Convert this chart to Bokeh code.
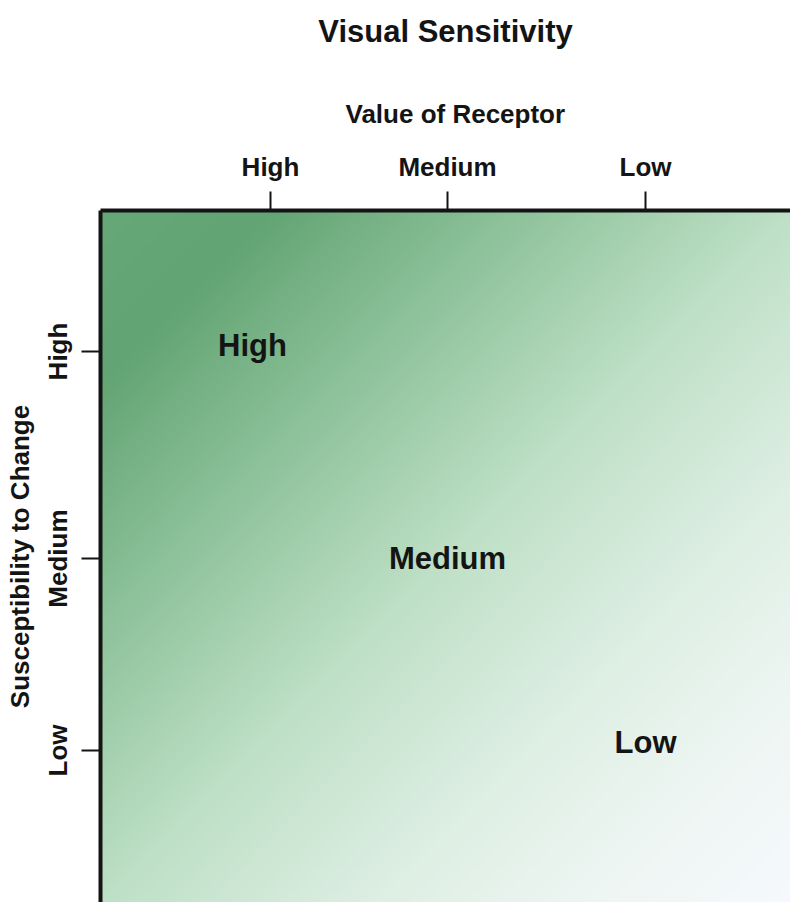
import numpy as np
from bokeh.plotting import figure
from bokeh.models import FixedTicker, Range1d, ColumnDataSource, Title
from bokeh.core.properties import value
from bokeh.embed import file_html
from bokeh.resources import INLINE

# ---- data ----
chart_title = "Visual Sensitivity"
x_axis_title = "Value of Receptor"
y_axis_title = "Susceptibility to Change"

x_tick_labels = ["High", "Medium", "Low"]
x_tick_pos = [170, 347, 545]
y_tick_labels = ["High", "Medium", "Low"]
y_tick_pos = [551, 344, 152]

zone_labels = ["High", "Medium", "Low"]
zone_x = [152, 347, 545]
zone_y = [557, 344, 160]

# gradient colour stops along the diagonal (0 = top-left, 1 = bottom-right)
grad_t = [0.0, 0.12, 0.3, 0.5, 0.7, 0.85, 1.0]
grad_r = [102, 98, 141, 190, 222, 238, 246]
grad_g = [168, 164, 194, 224, 239, 246, 249]
grad_b = [120, 115, 154, 198, 228, 243, 253]

X_MAX, Y_MAX = 690, 692
FONT = "'Liberation Sans', Arial, sans-serif"
INK = "#141414"

p = figure(width=790, height=902, output_backend="svg", toolbar_location=None,
           x_range=Range1d(0, X_MAX), y_range=Range1d(0, Y_MAX),
           x_axis_location="above", y_axis_location="left",
           min_border_left=100, min_border_top=210, min_border_right=0, min_border_bottom=0,
           title=chart_title)

p.outline_line_color = None
p.grid.visible = False
p.border_fill_color = "white"
p.background_fill_color = "white"

# gradient background
n = 240
u = (np.arange(n) + 0.5) / n            # left -> right
v = (np.arange(n) + 0.5) / n            # bottom -> top
U, V = np.meshgrid(u, v)
T = (U + (1 - V)) / 2
img = np.empty((n, n), dtype=np.uint32)
view = img.view(dtype=np.uint8).reshape((n, n, 4))
view[:, :, 0] = np.interp(T, grad_t, grad_r).astype(np.uint8)
view[:, :, 1] = np.interp(T, grad_t, grad_g).astype(np.uint8)
view[:, :, 2] = np.interp(T, grad_t, grad_b).astype(np.uint8)
view[:, :, 3] = 255
p.image_rgba(image=[img], x=0, y=0, dw=X_MAX, dh=Y_MAX)

# zone labels
src = ColumnDataSource(dict(x=zone_x, y=zone_y, t=zone_labels))
p.text(x="x", y="y", text="t", source=src, text_align="center", text_baseline="middle",
       text_font=value(FONT), text_font_size="31px", text_font_style="bold", text_color=INK)

# top axis title (as a title row so it can sit slightly right of centre)
p.add_layout(Title(text=x_axis_title, align="left", offset=245, standoff=39,
                   text_font=FONT, text_font_size="26px", text_font_style="bold",
                   text_color=INK), "above")
# blank spacer row between the axis title and the chart title
p.add_layout(Title(text=" ", standoff=0, text_font_size="24px"), "above")

# chart title (outermost)
p.title.text_font = FONT
p.title.text_font_size = "31px"
p.title.text_font_style = "bold"
p.title.text_color = INK
p.title.align = "center"
p.title.standoff = 0

for ax in (p.xaxis[0], p.yaxis[0]):
    ax.axis_line_width = 4
    ax.axis_line_color = INK
    ax.major_tick_line_width = 2
    ax.major_tick_line_color = INK
    ax.major_tick_out = 19
    ax.major_tick_in = 0
    ax.minor_tick_line_color = None
    ax.major_label_text_font = FONT
    ax.major_label_text_font_size = "26px"
    ax.major_label_text_font_style = "bold"
    ax.major_label_text_color = INK
    ax.axis_label_text_font = FONT
    ax.axis_label_text_font_size = "26px"
    ax.axis_label_text_font_style = "bold"
    ax.axis_label_text_color = INK

xa = p.xaxis[0]
xa.ticker = FixedTicker(ticks=x_tick_pos)
xa.major_label_overrides = {pos: lab for pos, lab in zip(x_tick_pos, x_tick_labels)}
xa.major_label_standoff = 10

ya = p.yaxis[0]
ya.ticker = FixedTicker(ticks=y_tick_pos)
ya.major_label_overrides = {pos: lab for pos, lab in zip(y_tick_pos, y_tick_labels)}
ya.axis_label = y_axis_title
ya.major_label_orientation = "vertical"
ya.major_label_standoff = 9
ya.axis_label_standoff = 5

open("out.html", "w").write(file_html(p, INLINE))
